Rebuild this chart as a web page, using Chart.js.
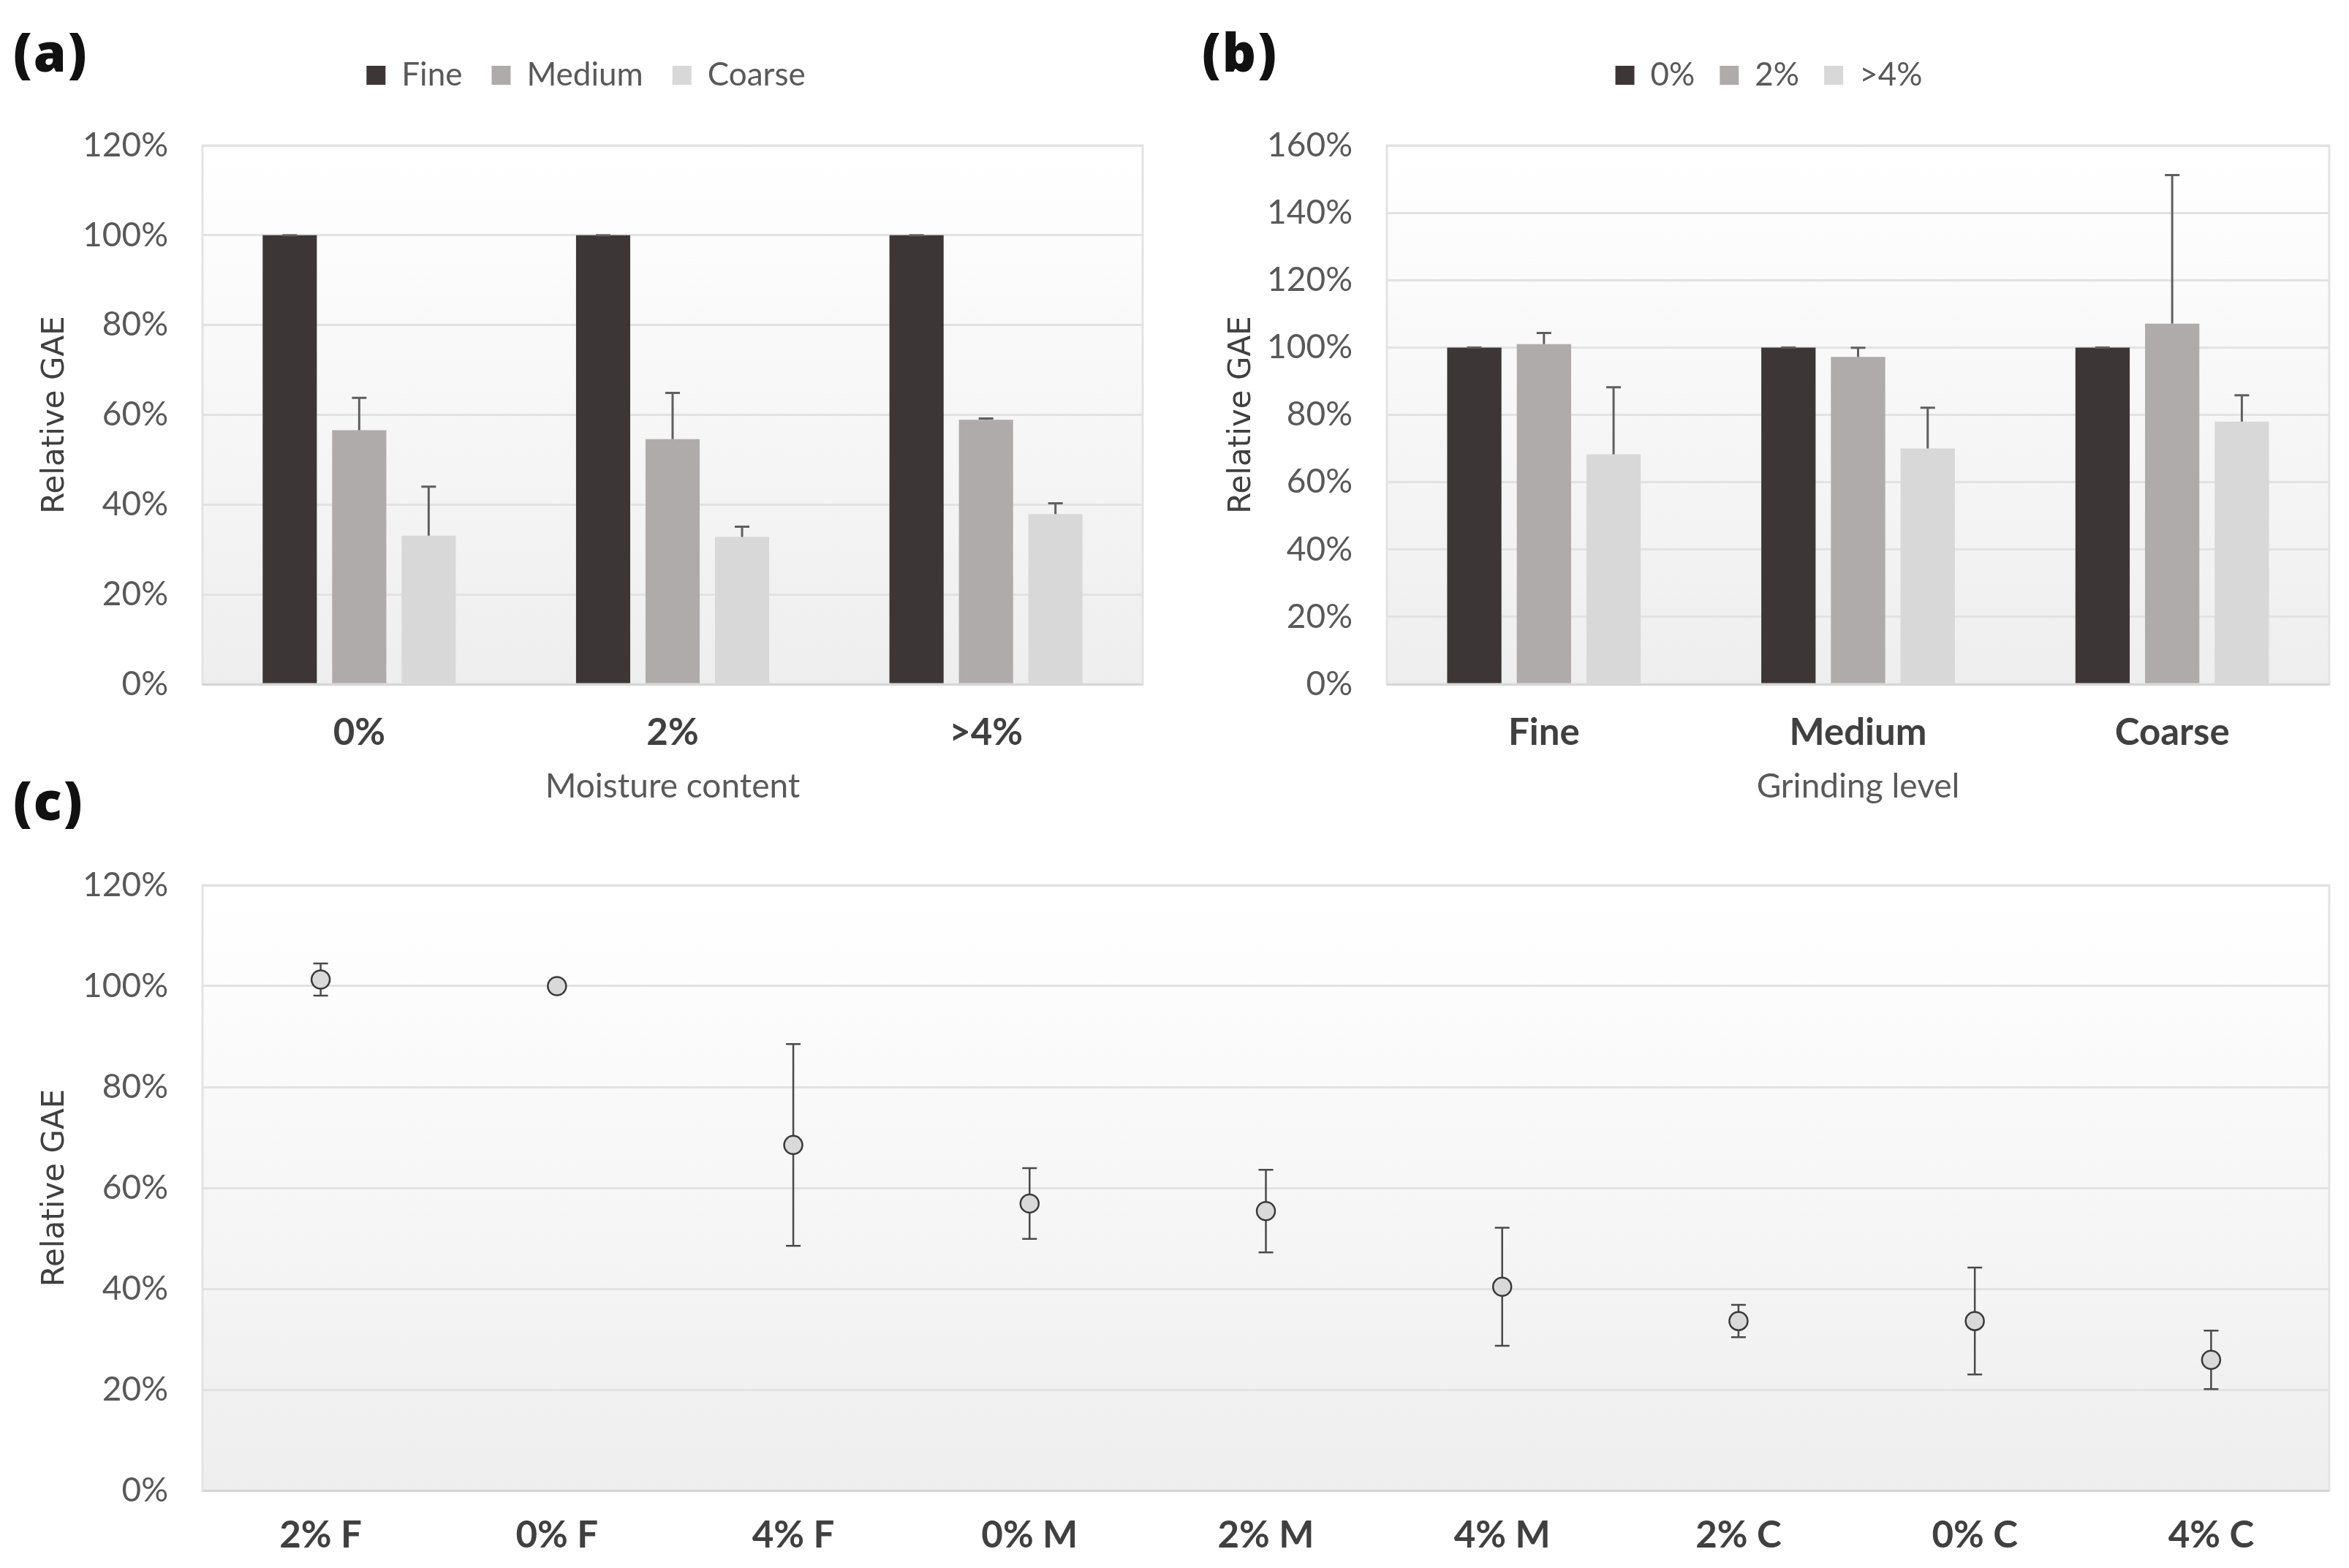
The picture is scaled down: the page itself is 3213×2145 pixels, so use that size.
<!DOCTYPE html>
<html><head><meta charset="utf-8">
<script src="https://cdn.jsdelivr.net/npm/chart.js@4.4.0/dist/chart.umd.min.js"></script>
<style>
html,body{margin:0;padding:0;background:#fff;width:3213px;height:2145px;overflow:hidden;}
.box{position:absolute;}
.lab{position:absolute;font-family:'Open Sans',sans-serif;font-weight:800;font-size:72px;color:#111;line-height:1;letter-spacing:2px;}
</style></head><body>
<div class="lab" style="left:18px;top:34px">(a)</div>
<div class="lab" style="left:1644px;top:34px">(b)</div>
<div class="lab" style="left:18px;top:1058px">(c)</div>
<div class="box" id="wa" style="left:40px;top:0;width:1540px;height:1106px"><canvas id="ca"></canvas></div>
<div class="box" id="wb" style="left:1653px;top:0;width:1560px;height:1106px"><canvas id="cb"></canvas></div>
<div class="box" id="wc" style="left:0;top:1100px;width:3213px;height:1045px"><canvas id="cc"></canvas></div>
<script>
// ---------- data ----------
const moistureLabels = ['0%', '2%', '>4%'];
const grindLabels = ['Fine', 'Medium', 'Coarse'];
const pctTicks20 = 20;

// Panel (a): relative GAE vs moisture content, series = grinding level
const aFine = [100, 100, 100];
const aFineErr = [0, 0, 0];
const aMedium = [56.6, 54.6, 58.9];
const aMediumErr = [7.2, 10.3, 0.3];
const aCoarse = [33.1, 32.8, 37.9];
const aCoarseErr = [10.9, 2.3, 2.4];

// Panel (b): relative GAE vs grinding level, series = moisture content
const b0 = [100, 100, 100];
const b0Err = [0, 0, 0];
const b2 = [101.0, 97.2, 107.1];
const b2Err = [3.3, 2.7, 44.1];
const b4 = [68.3, 70.0, 78.0];
const b4Err = [19.9, 12.1, 7.8];

// Panel (c): ranked combinations
const cLabels = ['2% F', '0% F', '4% F', '0% M', '2% M', '4% M', '2% C', '0% C', '4% C'];
const cValues = [101.3, 100, 68.5, 56.9, 55.4, 40.4, 33.6, 33.6, 25.9];
const cErr = [3.2, 0, 20.0, 7.0, 8.2, 11.7, 3.2, 10.6, 5.8];

// ---------- styling ----------
const C_FINE = '#3c3736', C_MED = '#afabaa', C_COARSE = '#d8d8d8';
const TICK_FONT = {family: 'Lato', size: 46};
const XLAB_FONT = {family: 'Lato', size: 51, weight: 'bold'};

const plotBg = {
  id: 'plotBg',
  beforeDraw(chart) {
    const {ctx, chartArea: a} = chart;
    const g = ctx.createLinearGradient(0, a.top, 0, a.bottom);
    g.addColorStop(0, '#ffffff');
    g.addColorStop(1, '#eeeeee');
    ctx.save();
    ctx.fillStyle = g;
    ctx.fillRect(a.left, a.top, a.right - a.left, a.bottom - a.top);
    ctx.strokeStyle = '#e3e3e3';
    ctx.lineWidth = 3;
    ctx.strokeRect(a.left, a.top, a.right - a.left, a.bottom - a.top);
    ctx.restore();
  }
};

function drawErrors(chart, opts) {
  const {ctx} = chart;
  const ys = chart.scales.y;
  ctx.save();
  ctx.strokeStyle = opts.color;
  ctx.lineWidth = opts.width;
  chart.data.datasets.forEach((ds, i) => {
    if (!ds.errors) return;
    const meta = chart.getDatasetMeta(i);
    meta.data.forEach((el, j) => {
      const v = ds.data[j], e = ds.errors[j];
      const yHi = ys.getPixelForValue(v + e);
      const yLo = opts.symmetric ? ys.getPixelForValue(v - e) : el.y;
      ctx.beginPath();
      ctx.moveTo(el.x, yLo); ctx.lineTo(el.x, yHi);
      ctx.moveTo(el.x - opts.cap, yHi); ctx.lineTo(el.x + opts.cap, yHi);
      if (opts.symmetric) { ctx.moveTo(el.x - opts.cap, yLo); ctx.lineTo(el.x + opts.cap, yLo); }
      ctx.stroke();
    });
  });
  ctx.restore();
}
const errorBars = {
  id: 'errorBars',
  beforeDatasetsDraw(chart, args, opts) { if (opts.symmetric) drawErrors(chart, opts); },
  afterDatasetsDraw(chart, args, opts) { if (!opts.symmetric) drawErrors(chart, opts); }
};
const legendGap = {
  id: 'legendGap',
  beforeInit(chart, args, opts) {
    if (!chart.legend) return;
    const f = chart.legend.fit;
    chart.legend.fit = function () { f.call(this); this.height += (opts.extra || 0); };
  }
};

function yAxis(max, width, titlePad) {
  return {
    min: 0, max: max,
    ticks: {stepSize: pctTicks20, callback: v => v + '%', color: '#595959', font: TICK_FONT, padding: 47},
    grid: {color: c => (c.tick && c.tick.value === 0) ? '#d6d6d6' : '#e2e2e2', lineWidth: 3, drawTicks: false},
    border: {display: false},
    title: {display: true, text: 'Relative GAE', color: '#404040', font: {family: 'DejaVu Sans', size: 42}, padding: {top: titlePad, bottom: 0}},
    afterFit: s => { s.width = width; }
  };
}
function xAxis(title, height, pad) {
  return {
    ticks: {color: '#404040', font: XLAB_FONT, padding: pad},
    grid: {display: false, drawTicks: false},
    border: {display: false},
    title: {display: !!title, text: title || '', color: '#595959', font: {family: 'Lato', size: 46}, padding: {top: 0, bottom: 2}},
    afterFit: s => { s.height = height; }
  };
}
function legendOpts(pad) {
  return {
    display: true, position: 'top',
    labels: {boxWidth: 26, boxHeight: 26, color: '#595959', font: {family: 'Lato', size: 44}, padding: pad}
  };
}
function barDs(label, data, errs, color) {
  return {label, data, errors: errs, backgroundColor: color, borderWidth: 0,
          categoryPercentage: 0.665, barPercentage: 0.78};
}

Chart.defaults.animation = false;

new Chart(document.getElementById('ca'), {
  type: 'bar',
  data: {
    labels: moistureLabels,
    datasets: [
      barDs('Fine', aFine, aFineErr, C_FINE),
      barDs('Medium', aMedium, aMediumErr, C_MED),
      barDs('Coarse', aCoarse, aCoarseErr, C_COARSE)
    ]
  },
  options: {
    responsive: true, maintainAspectRatio: false, devicePixelRatio: 1, events: [],
    layout: {padding: {left: 0, right: 17, top: 103 - 40 - 22, bottom: 0}},
    scales: {x: xAxis('Moisture content', 170, 36), y: yAxis(120, 237, 11)},
    plugins: {
      legend: legendOpts(40), tooltip: {enabled: false},
      legendGap: {extra: 64},
      errorBars: {symmetric: false, color: '#5f5f5f', width: 3, cap: 10}
    }
  },
  plugins: [plotBg, errorBars, legendGap]
});

new Chart(document.getElementById('cb'), {
  type: 'bar',
  data: {
    labels: grindLabels,
    datasets: [
      barDs('0%', b0, b0Err, C_FINE),
      barDs('2%', b2, b2Err, C_MED),
      barDs('>4%', b4, b4Err, C_COARSE)
    ]
  },
  options: {
    responsive: true, maintainAspectRatio: false, devicePixelRatio: 1, events: [],
    layout: {padding: {left: 0, right: 27, top: 103 - 34 - 22, bottom: 0}},
    scales: {x: xAxis('Grinding level', 170, 36), y: yAxis(160, 244, 21)},
    plugins: {
      legend: legendOpts(34), tooltip: {enabled: false},
      legendGap: {extra: 64},
      errorBars: {symmetric: false, color: '#5f5f5f', width: 3, cap: 10}
    }
  },
  plugins: [plotBg, errorBars, legendGap]
});

new Chart(document.getElementById('cc'), {
  type: 'line',
  data: {
    labels: cLabels,
    datasets: [{
      label: 'Relative GAE', data: cValues, errors: cErr, showLine: false,
      pointRadius: 12.5, pointBorderWidth: 2.5, pointBackgroundColor: '#d9d9d9', pointBorderColor: '#3a3a3a'
    }]
  },
  options: {
    responsive: true, maintainAspectRatio: false, devicePixelRatio: 1, events: [],
    layout: {padding: {left: 0, right: 27, top: 111, bottom: 0}},
    scales: {x: Object.assign(xAxis('', 106, 31), {offset: true}), y: yAxis(120, 277, 51)},
    plugins: {
      legend: {display: false}, tooltip: {enabled: false},
      errorBars: {symmetric: true, color: '#4a4a4a', width: 2.5, cap: 10}
    }
  },
  plugins: [plotBg, errorBars]
});
</script>
</body></html>
